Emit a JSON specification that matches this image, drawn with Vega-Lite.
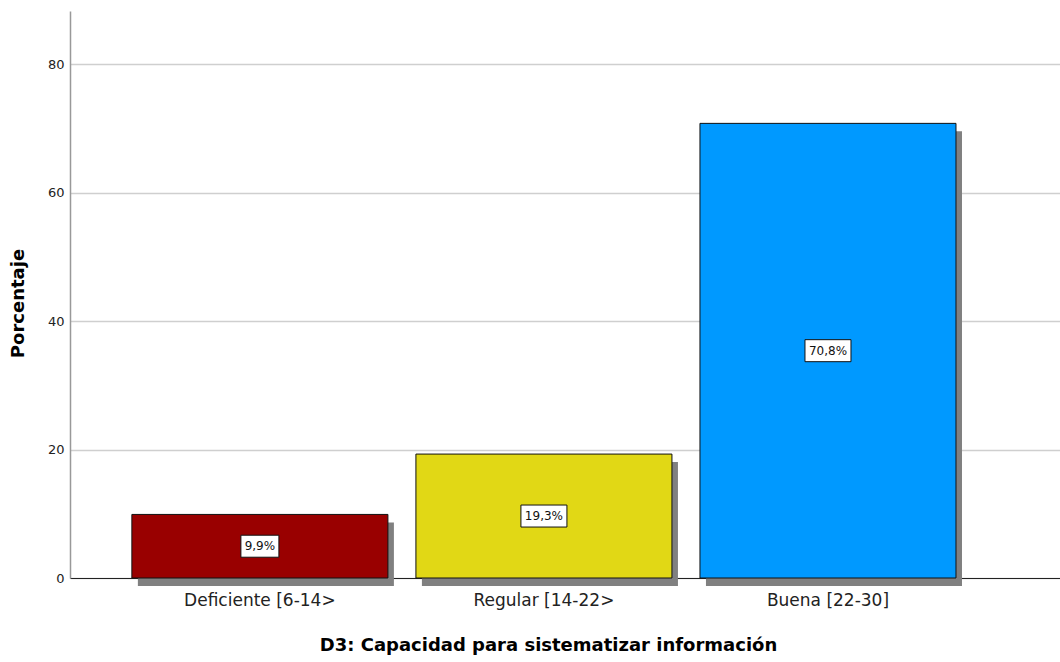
{
  "$schema": "https://vega.github.io/schema/vega-lite/v6.json",
  "width": 990,
  "height": 567,
  "autosize": "none",
  "padding": {"left": 70, "top": 11, "right": 0, "bottom": 84},
  "background": "white",
  "config": {
    "view": {"stroke": null},
    "font": "DejaVu Sans"
  },
  "data": {
    "values": [
      {"cat": "Deficiente [6-14>", "pct": 9.9, "label": "9,9%"},
      {"cat": "Regular [14-22>", "pct": 19.3, "label": "19,3%"},
      {"cat": "Buena [22-30]", "pct": 70.8, "label": "70,8%"}
    ]
  },
  "transform": [{"calculate": "datum.pct / 2", "as": "mid"}],
  "encoding": {
    "x": {
      "field": "cat",
      "type": "nominal",
      "sort": null,
      "scale": {"paddingInner": 0.0986, "paddingOuter": 0.292, "align": 0.373},
      "axis": {
        "title": "D3: Capacidad para sistematizar información",
        "titleFontSize": 18,
        "titleFontWeight": "bold",
        "titleColor": "#000",
        "titlePadding": 28,
        "titleX": 478,
        "labelFontSize": 17,
        "labelColor": "#222",
        "labelPadding": 14,
        "labelAngle": 0,
        "ticks": false,
        "domainColor": "#222",
        "domainWidth": 1,
        "grid": false
      }
    }
  },
  "layer": [
    {
      "mark": {"type": "bar", "color": "#808080", "xOffset": 6, "x2Offset": 6, "yOffset": 8, "y2Offset": 8},
      "encoding": {
        "y": {
          "field": "pct",
          "type": "quantitative",
          "scale": {"domain": [0, 88.3], "nice": false},
          "axis": {
            "title": "Porcentaje",
            "titleFontSize": 18,
            "titleFontWeight": "bold",
            "titleColor": "#000",
            "titlePadding": 20,
            "titleY": 292,
            "values": [0, 20, 40, 60, 80],
            "labelFontSize": 13,
            "labelColor": "#222",
            "labelPadding": 6,
            "ticks": false,
            "domainColor": "#999",
            "domainWidth": 1.5,
            "gridColor": "#cfcfcf",
            "gridWidth": 1.5
          }
        }
      }
    },
    {
      "mark": {"type": "bar", "stroke": "#111", "strokeWidth": 1},
      "encoding": {
        "y": {"field": "pct", "type": "quantitative"},
        "color": {
          "field": "cat",
          "type": "nominal",
          "scale": {
            "domain": ["Deficiente [6-14>", "Regular [14-22>", "Buena [22-30]"],
            "range": ["#990000", "#e1d815", "#0099ff"]
          },
          "legend": null
        }
      }
    },
    {
      "mark": {"type": "bar", "fill": "white", "stroke": "#111", "strokeWidth": 1, "yOffset": -11, "y2Offset": 11},
      "encoding": {
        "y": {"field": "mid", "type": "quantitative"},
        "y2": {"field": "mid"},
        "size": {
          "condition": {"test": "datum.label === '9,9%'", "value": 38},
          "value": 46
        }
      }
    },
    {
      "mark": {"type": "text", "fontSize": 12, "color": "#111", "baseline": "middle", "align": "center"},
      "encoding": {
        "y": {"field": "mid", "type": "quantitative"},
        "text": {"field": "label"}
      }
    }
  ]
}
